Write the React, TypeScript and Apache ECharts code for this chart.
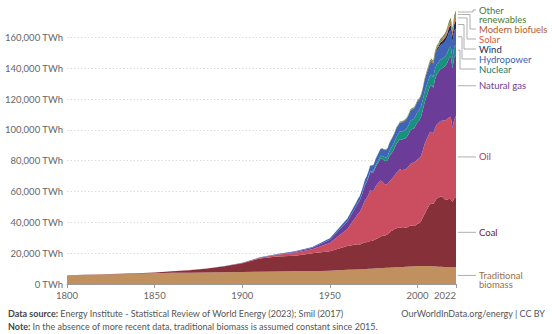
import React, { useEffect, useRef } from "react";
import * as echarts from "echarts";

const years = [
  1800, 1810, 1820, 1830, 1840, 1850, 1860, 1870, 1880, 1890, 1900, 1910, 1920, 1930, 1940, 1950, 1960,
  1965, 1966, 1967, 1968, 1969, 1970, 1971, 1972, 1973, 1974,
  1975, 1976, 1977, 1978, 1979, 1980, 1981, 1982, 1983, 1984,
  1985, 1986, 1987, 1988, 1989, 1990, 1991, 1992, 1993, 1994,
  1995, 1996, 1997, 1998, 1999, 2000, 2001, 2002, 2003, 2004,
  2005, 2006, 2007, 2008, 2009, 2010, 2011, 2012, 2013, 2014,
  2015, 2016, 2017, 2018, 2019, 2020, 2021, 2022,
];

const biomass = [
  5556, 5833, 6111, 6389, 6667, 6944, 7222, 7361, 7500, 7639, 7778, 7917, 8056, 8194, 8333, 8611, 9167,
  9420, 9480, 9530, 9610, 9660, 9720, 9790, 9840, 9900, 9960,
  10030, 10090, 10150, 10220, 10280, 10340, 10400, 10470, 10530, 10600,
  10660, 10720, 10790, 10850, 10910, 10980, 11040, 11100, 11170, 11230,
  11290, 11360, 11420, 11480, 11550, 11610, 11640, 11660, 11680, 11700,
  11690, 11650, 11600, 11540, 11470, 11390, 11310, 11240, 11180, 11130,
  11111, 11111, 11111, 11111, 11111, 11111, 11111, 11111,
];

const coal = [
  97, 128, 153, 264, 356, 569, 1061, 1642, 2542, 3856, 5728, 8656, 9833, 10125, 11586, 12603, 15442,
  16140, 16330, 16050, 16420, 16950, 17420, 17380, 17560, 18070, 18020,
  18380, 18950, 19420, 19750, 20520, 20950, 20930, 21240, 21830, 22830,
  23790, 24120, 24940, 25370, 25610, 25880, 25240, 25170, 25260, 25480,
  26190, 26630, 26380, 26170, 26640, 27420, 27830, 28850, 31240, 33640,
  35920, 38050, 40010, 40780, 40520, 42230, 44320, 44630, 45540, 45420,
  44480, 43410, 43620, 44140, 43860, 42060, 44470, 44854,
];

const oil = [
  0, 0, 0, 0, 0, 0, 0, 6, 33, 89, 181, 467, 1097, 1972, 2672, 5444, 11097,
  18300, 19700, 21000, 22800, 24800, 27000, 28400, 30500, 33000, 32400,
  32100, 34000, 35100, 36000, 36400, 35000, 33800, 32900, 32700, 33200,
  33200, 34200, 34800, 36000, 36600, 37700, 37500, 37800, 37700, 38400,
  38900, 39900, 40800, 41000, 41700, 41800, 42100, 42600, 43500, 45100,
  45700, 46200, 46700, 46400, 45700, 47400, 47900, 48400, 49000, 49400,
  50600, 51500, 52400, 52800, 53620, 48250, 51170, 52970,
];

const gas = [
  0, 0, 0, 0, 0, 0, 0, 0, 0, 33, 64, 161, 233, 553, 861, 2092, 4833,
  6400, 6900, 7400, 8100, 8900, 10000, 10600, 11100, 11700, 11900,
  12000, 12600, 13000, 13500, 14300, 14900, 15000, 15000, 15200, 16300,
  16800, 17100, 17900, 18600, 19300, 19450, 19900, 20000, 20300, 20400,
  21000, 22000, 21900, 22300, 22900, 24250, 24500, 25300, 26100, 27000,
  27900, 28500, 29700, 30400, 29700, 31700, 32400, 33300, 33700, 33900,
  34500, 35500, 36400, 38300, 39030, 38500, 40360, 39413,
];

const nuclear = [
  0, 0, 0, 0, 0, 0, 0, 0, 0, 0, 0, 0, 0, 0, 0, 0, 0,
  70, 90, 110, 140, 170, 230, 320, 440, 570, 740,
  1000, 1150, 1400, 1620, 1700, 1920, 2230, 2430, 2750, 3250,
  3800, 4100, 4400, 4760, 4890, 5080, 5300, 5350, 5550, 5650,
  5840, 6050, 6030, 6130, 6330, 6450, 6640, 6720, 6660, 6880,
  6920, 6990, 6850, 6780, 6690, 6840, 6560, 6010, 6060, 6160,
  6240, 6300, 6380, 6500, 6640, 6410, 6630, 6700,
];

const hydro = [
  0, 0, 0, 0, 0, 0, 0, 0, 0, 5, 14, 97, 181, 361, 542, 933, 1916,
  2550, 2700, 2780, 2900, 3050, 3200, 3350, 3480, 3550, 3860,
  3930, 3960, 4060, 4330, 4530, 4620, 4690, 4830, 5010, 5170,
  5260, 5330, 5380, 5550, 5530, 5720, 5880, 5880, 6150, 6200,
  6500, 6600, 6700, 6720, 6770, 6970, 6800, 6910, 6950, 7360,
  7610, 7820, 7900, 8220, 8250, 8720, 8820, 9200, 9470, 9640,
  9600, 9900, 10000, 10300, 10400, 10800, 10600, 10700,
];

const wind = [
  0, 0, 0, 0, 0, 0, 0, 0, 0, 0, 0, 0, 0, 0, 0, 0, 0,
  0, 0, 0, 0, 0, 0, 0, 0, 0, 0,
  0, 0, 0, 0, 0, 0, 0, 0, 1, 2,
  3, 5, 6, 8, 9, 11, 12, 14, 17, 20,
  23, 28, 34, 45, 60, 85, 105, 140, 170, 220,
  270, 345, 440, 580, 730, 910, 1140, 1330, 1580, 1770,
  2070, 2380, 2800, 3110, 3450, 3880, 4550, 5250,
];

const solar = [
  0, 0, 0, 0, 0, 0, 0, 0, 0, 0, 0, 0, 0, 0, 0, 0, 0,
  0, 0, 0, 0, 0, 0, 0, 0, 0, 0,
  0, 0, 0, 0, 0, 0, 0, 0, 0, 0,
  0, 0, 0, 0, 0, 1, 1, 1, 1, 1,
  1, 1, 2, 2, 2, 3, 4, 5, 7, 9,
  12, 16, 21, 34, 57, 88, 175, 270, 370, 500,
  660, 850, 1150, 1450, 1750, 2100, 2600, 3300,
];

const biofuels = [
  0, 0, 0, 0, 0, 0, 0, 0, 0, 0, 0, 0, 0, 0, 0, 0, 0,
  0, 0, 0, 0, 0, 0, 0, 0, 0, 0,
  0, 0, 0, 0, 0, 0, 0, 0, 0, 0,
  0, 0, 0, 0, 0, 110, 110, 115, 115, 120,
  125, 130, 130, 130, 125, 125, 130, 150, 175, 195,
  230, 290, 365, 480, 540, 610, 620, 625, 680, 750,
  770, 800, 850, 930, 1000, 920, 1050, 1200,
];

const otherRenewables = [
  0, 0, 0, 0, 0, 0, 0, 0, 0, 0, 0, 0, 0, 0, 0, 0, 0,
  80, 85, 90, 95, 100, 110, 120, 130, 140, 150,
  165, 180, 200, 220, 250, 280, 310, 340, 370, 400,
  430, 460, 490, 520, 550, 580, 600, 620, 650, 670,
  690, 720, 750, 770, 790, 810, 840, 870, 900, 940,
  990, 1040, 1090, 1140, 1200, 1260, 1320, 1380, 1440, 1500,
  1560, 1630, 1700, 1780, 1860, 1920, 1980, 2030,
];

const xTickLabels = [1800, 1850, 1900, 1950, 2000, 2022];

const seriesDefs = [
  { name: "Traditional biomass", data: biomass, color: "#c0915f", label: "#a06d3c", labelY: null as number | null },
  { name: "Coal", data: coal, color: "#86303a", label: "#6e2230", labelY: null },
  { name: "Oil", data: oil, color: "#cb4d60", label: "#b23a52", labelY: null },
  { name: "Natural gas", data: gas, color: "#6b3d99", label: "#6d3e91", labelY: null },
  { name: "Nuclear", data: nuclear, color: "#18927e", label: "#177a6a", labelY: 69 },
  { name: "Hydropower", data: hydro, color: "#3f64b8", label: "#3a63b0", labelY: 59 },
  { name: "Wind", data: wind, color: "#1d2b5c", label: "#1d2b55", labelY: 49 },
  { name: "Solar", data: solar, color: "#e0624e", label: "#e0563f", labelY: 39 },
  { name: "Modern biofuels", data: biofuels, color: "#a5602e", label: "#b05a2b", labelY: 29 },
  { name: "Other renewables", data: otherRenewables, color: "#6d8e3a", label: "#4e7a2a", labelY: 10 },
];

const footerLines = [
  { bold: "Data source:", rest: "Energy Institute - Statistical Review of World Energy (2023); Smil (2017)", y: 313 },
  { bold: "Note:", rest: "In the absence of more recent data, traditional biomass is assumed constant since 2015.", y: 326 },
];
const footerRight = "OurWorldInData.org/energy | CC BY";

const FONT = "Lato, 'Noto Sans', sans-serif";

function measure(text: string, font: string): number {
  const c = document.createElement("canvas").getContext("2d");
  if (!c) return text.length * 4.5;
  c.font = font;
  return c.measureText(text).width;
}

export default function App() {
  const ref = useRef<HTMLDivElement>(null);
  useEffect(() => {
    if (!ref.current) return;
    const chart = echarts.init(ref.current, undefined, { renderer: "svg" });
    const option: any = {
      animation: false,
      textStyle: { fontFamily: FONT },
      grid: { left: 67, right: 96, top: 6.6, bottom: 50, containLabel: false },
      xAxis: {
        type: "value",
        min: 1800,
        max: 2022,
        interval: 50,
        axisLine: { show: true, lineStyle: { color: "#999", width: 1 } },
        axisTick: { show: true, length: 4, lineStyle: { color: "#999" }, customValues: xTickLabels },
        axisLabel: {
          customValues: xTickLabels,
          color: "#666",
          fontSize: 9.5,
          fontFamily: FONT,
          margin: 6,
          alignMaxLabel: "right",
          formatter: (v: number) => String(v),
        },
        splitLine: { show: false },
      },
      yAxis: {
        type: "value",
        min: 0,
        max: 180000,
        interval: 20000,
        axisLine: { show: false },
        axisTick: { show: false },
        axisLabel: {
          color: "#666",
          fontSize: 9.5,
          fontFamily: FONT,
          margin: 4,
          formatter: (v: number) => (v >= 180000 ? "" : v.toLocaleString("en-US") + " TWh"),
        },
        splitLine: {
          show: true,
          lineStyle: {
            type: [1.5, 2],
            width: 1,
            color: ["#dcdcdc", "#dcdcdc", "#dcdcdc", "#dcdcdc", "#dcdcdc", "#dcdcdc", "#dcdcdc", "#dcdcdc", "#dcdcdc", "rgba(0,0,0,0)"],
          },
        },
      },
      series: seriesDefs.map((s) => ({
        name: s.name,
        type: "line",
        stack: "total",
        symbol: "none",
        showSymbol: false,
        lineStyle: { width: 0 },
        areaStyle: { color: s.color, opacity: 1 },
        itemStyle: { color: s.color },
        // value first so that the stack is computed on the y dimension
        encode: { x: 1, y: 0 },
        data: years.map((y, i) => [s.data[i], y]),
      })),
    };
    chart.setOption(option);

    // Labels with leader lines, anchored to the middle of each band at the last year
    const last = years.length - 1;
    let cum = 0;
    const graphics: any[] = [];
    const elbowX: Record<string, number> = {
      "Other renewables": 473,
      "Modern biofuels": 470,
      Solar: 467,
      Wind: 464,
      Hydropower: 462,
      Nuclear: 460,
    };
    seriesDefs.forEach((s) => {
      const v = s.data[last];
      const mid = cum + v / 2;
      cum += v;
      const p = chart.convertToPixel({ gridIndex: 0 }, [years[last], mid]) as number[];
      const x0 = p[0] + 2;
      const yBand = p[1];
      const labelY = s.labelY == null ? yBand : s.labelY;
      const pts =
        s.labelY == null
          ? [
              [x0, yBand],
              [476, yBand],
            ]
          : [
              [x0, yBand],
              [elbowX[s.name], yBand],
              [elbowX[s.name], labelY],
              [476, labelY],
            ];
      graphics.push({
        type: "polyline",
        shape: { points: pts },
        style: { stroke: "#9a9a9a", lineWidth: 0.8, fill: null },
        silent: true,
      });
      const twoLine = s.name === "Other renewables" || s.name === "Traditional biomass";
      const text = s.name === "Other renewables" ? "Other\nrenewables" : s.name === "Traditional biomass" ? "Traditional\nbiomass" : s.name;
      graphics.push({
        type: "text",
        x: 479,
        y: twoLine ? labelY - 4.75 : labelY,
        style: {
          text,
          fill: s.label,
          fontSize: 9.5,
          fontFamily: FONT,
          lineHeight: 9.5,
          verticalAlign: twoLine ? "top" : "middle",
        },
        silent: true,
      });
    });

    const FS = 9;
    footerLines.forEach((line) => {
      const bw = measure(line.bold + " ", `bold ${FS}px Lato`);
      graphics.push({
        type: "text",
        x: 8,
        y: line.y,
        style: { text: line.bold, fill: "#444", fontSize: FS, fontWeight: "bold", fontFamily: FONT, verticalAlign: "middle" },
        silent: true,
      });
      graphics.push({
        type: "text",
        x: 8 + bw,
        y: line.y,
        style: { text: line.rest, fill: "#555", fontSize: FS, fontFamily: FONT, verticalAlign: "middle" },
        silent: true,
      });
    });
    graphics.push({
      type: "text",
      x: 545,
      y: 313,
      style: {
        text: footerRight,
        fill: "#555",
        fontSize: FS,
        fontFamily: FONT,
        align: "right",
        verticalAlign: "middle",
      },
      silent: true,
    });

    chart.setOption({ graphic: { elements: graphics } });

    return () => chart.dispose();
  }, []);

  return (
    <div
      ref={ref}
      style={{ position: "fixed", left: 0, top: 0, width: 552, height: 334, background: "#fff" }}
    />
  );
}
